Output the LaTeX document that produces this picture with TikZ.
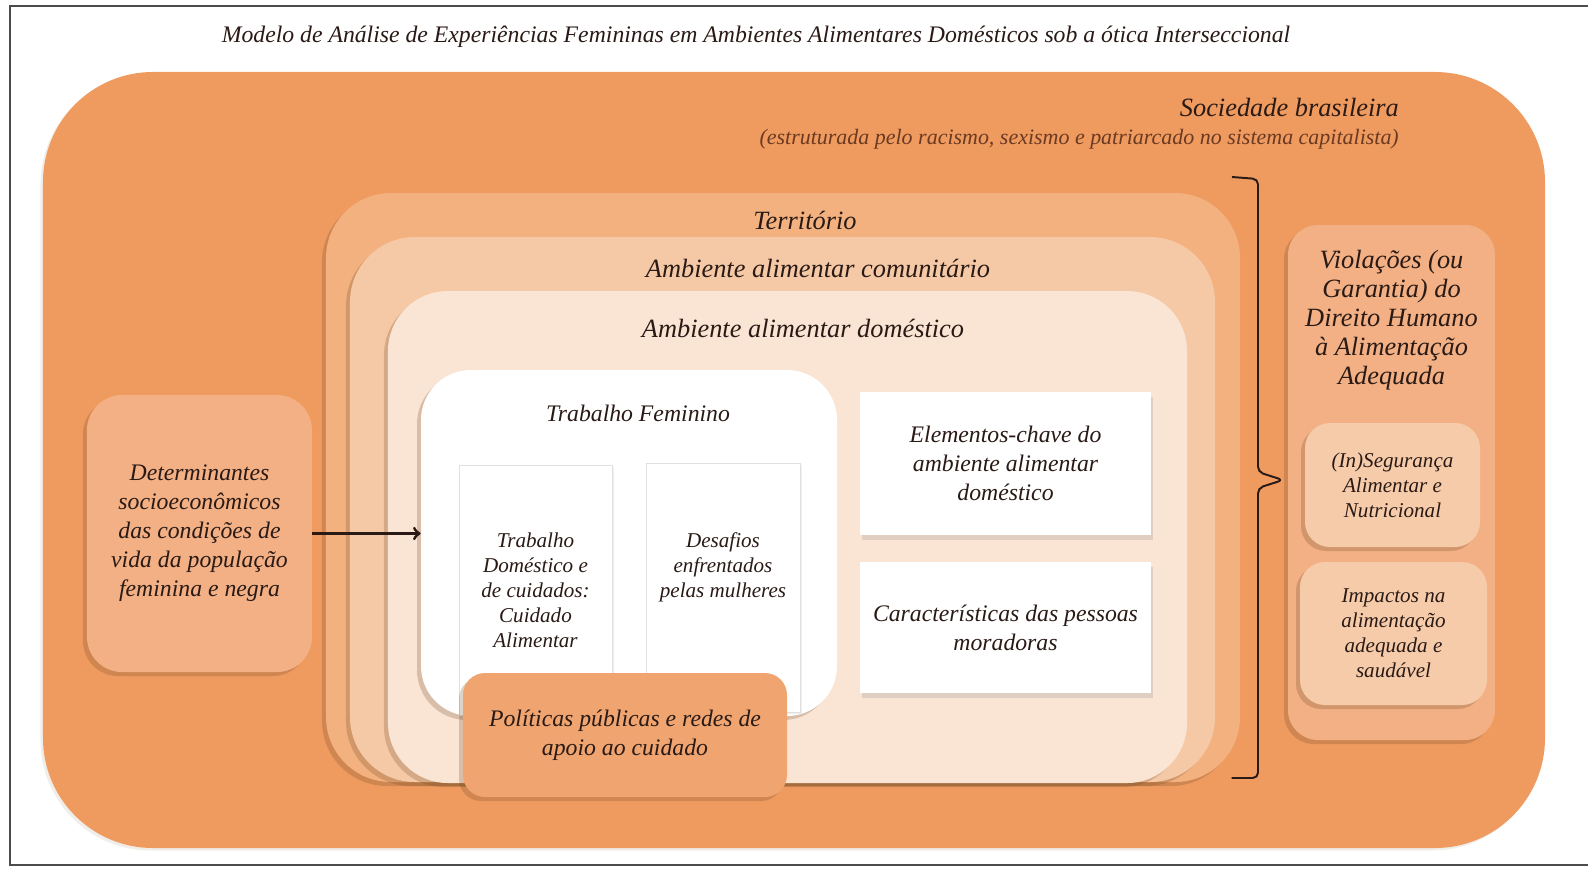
\documentclass[tikz,border=0pt]{standalone}
\usepackage{fontspec}
\setmainfont{Liberation Serif}
\usepackage{xcolor}
\usepackage{tikz}
\usetikzlibrary{shapes}
\usetikzlibrary{arrows}
\usetikzlibrary{shadows}
\usetikzlibrary{positioning}

\definecolor{sociedade}{HTML}{EF9A5F}
\definecolor{territorio}{HTML}{F2B17F}
\definecolor{comunitario}{HTML}{F6C9A6}
\definecolor{domestico}{HTML}{FAE4D4}
\definecolor{laranjaclaro}{HTML}{F2B084}
\definecolor{laranjapalido}{HTML}{F6CBAA}
\definecolor{politicas}{HTML}{F0A571}
\definecolor{tinta}{HTML}{2A1A16}
\definecolor{tintanota}{HTML}{6B3A22}

\begin{document}
\begin{tikzpicture} [
            x=0.2mm, y=-0.2mm,
            % ----- Node definitions ----- %
            layernode/.style = {
                rectangle,
                rounded corners=#1,
                inner sep=0pt,
                drop shadow={fill=brown!60!black, opacity=0.25,
                    shadow xshift=-0.8mm, shadow yshift=-0.8mm}
            },
            layernode/.default = 10mm,
            papernode/.style = {
                rectangle,
                fill=white,
                draw=black!12,
                inner sep=2pt,
                align=center,
                drop shadow={opacity=0.12, shadow xshift=0.4mm, shadow yshift=-0.4mm}
            },
            cardnode/.style = {
                rectangle,
                fill=white,
                inner sep=2pt,
                align=center,
                drop shadow={opacity=0.22, shadow xshift=0.4mm, shadow yshift=-0.9mm}
            },
            bigtext/.style = {font=\fontsize{15}{17}\selectfont\itshape, text=tinta, align=center},
            boxtext/.style = {font=\fontsize{13.5}{16.5}\selectfont\itshape, text=tinta, align=center},
            smalltext/.style = {font=\fontsize{12}{14.2}\selectfont\itshape, text=tinta, align=center},
    ]
    \useasboundingbox (0,0) rectangle (1588,868);
    \draw[black!70, line width=0.6pt] (10,6) rectangle (1600,865);

            % ----- Node constructions ----- %
        \node [font=\fontsize{13.5}{16}\selectfont\itshape, text=tinta] (title) at (756,37)
            {Modelo de Análise de Experiências Femininas em Ambientes Alimentares Domésticos sob a ótica Interseccional};

        \node [rectangle, rounded corners=22mm, fill=sociedade, minimum width=300.4mm, minimum height=155.2mm,
            drop shadow={fill=brown!60!black, opacity=0.1, shadow xshift=-0.5mm, shadow yshift=-0.5mm}] (sociedade) at (794,460) {};
        \node [bigtext, anchor=east] (sociedadelabel) at (1405,107) {Sociedade brasileira};
        \node [font=\fontsize{12.5}{14}\selectfont\itshape, text=tintanota, anchor=east] (sociedadenota) at (1405,139)
            {(estruturada pelo racismo, sexismo e patriarcado no sistema capitalista)};

        \node [layernode=13mm, fill=territorio, minimum width=182.8mm, minimum height=117.8mm] (territorio) at (783,487.5) {};
        \node [layernode=13mm, fill=comunitario, minimum width=173mm, minimum height=109mm] (comunitario) at (782.5,509.5) {};
        \node [layernode=12mm, fill=domestico, minimum width=159.8mm, minimum height=98.4mm] (domestico) at (787.5,537) {};
        \node [bigtext] (territoriolabel) at (805,220) {Território};
        \node [bigtext] (comunitariolabel) at (818,268) {Ambiente alimentar comunitário};
        \node [bigtext] (domesticolabel) at (803,328) {Ambiente alimentar doméstico};

        \node [layernode=10mm, fill=white, minimum width=83.2mm, minimum height=69.2mm] (feminino) at (629,543) {};
        \node [boxtext] (femininolabel) at (638,413) {Trabalho Feminino};
        \node [papernode, smalltext, minimum width=30.6mm, minimum height=50mm] (cuidado) at (535.5,590)
            {Trabalho\\ Doméstico e\\ de cuidados:\\ Cuidado\\ Alimentar};
        \node [papernode, smalltext, minimum width=30.8mm, minimum height=49.8mm] (desafios) at (723,587.5)
            {Desafios\\ enfrentados\\ pelas mulheres\\[4mm]};
        \node [layernode=4.4mm, fill=politicas, boxtext, minimum width=64.8mm, minimum height=24.8mm] (politicas) at (625,735)
            {Políticas públicas e redes de\\ apoio ao cuidado};

        \node [cardnode, boxtext, minimum width=58.2mm, minimum height=28.6mm] (elementos) at (1005.5,463.5)
            {Elementos-chave do\\ ambiente alimentar\\ doméstico};
        \node [cardnode, boxtext, minimum width=58.2mm, minimum height=26.2mm] (caracteristicas) at (1005.5,627.5)
            {Características das pessoas\\ moradoras};

        \node [layernode=7mm, fill=laranjaclaro, boxtext, minimum width=45mm, minimum height=55.4mm] (determinantes) at (199.5,533.5)
            {Determinantes\\ socioeconômicos\\ das condições de\\ vida da população\\ feminina e negra};

        \node [layernode=6mm, fill=laranjaclaro, minimum width=41.4mm, minimum height=103mm] (violacoes) at (1391.5,482.5) {};
        \node [bigtext, font=\fontsize{15}{16.5}\selectfont\itshape] (violacoeslabel) at (1391.5,320)
            {Violações (ou\\ Garantia) do\\ Direito Humano\\ à Alimentação\\ Adequada};
        \node [layernode=5mm, fill=laranjapalido, smalltext, minimum width=35mm, minimum height=24.8mm] (inseguranca) at (1392.5,485)
            {(In)Segurança\\ Alimentar e\\ Nutricional};
        \node [layernode=5mm, fill=laranjapalido, smalltext, minimum width=37.4mm, minimum height=28.6mm] (impactos) at (1393.5,633.5)
            {Impactos na\\ alimentação\\ adequada e\\ saudável};

        % ----- Connections ----- %
        \draw [->, line width=1.7pt, tinta] (determinantes.east) -- (determinantes.east -| feminino.west);

        \coordinate (chavetopo) at (1232,177);
        \coordinate (chavebase) at (1232,778);
        \coordinate (chaveponta) at (1283,480);
        \draw [tinta, line width=1.1pt, rounded corners=3pt]
            (chavetopo) -- ++(26,2) -- ([xshift=-5mm]chaveponta |- 0,472) -- (chaveponta)
            -- ([xshift=-5mm]chaveponta |- 0,488) |- ([xshift=-0.1mm]chavebase);

\end{tikzpicture}
\end{document}
